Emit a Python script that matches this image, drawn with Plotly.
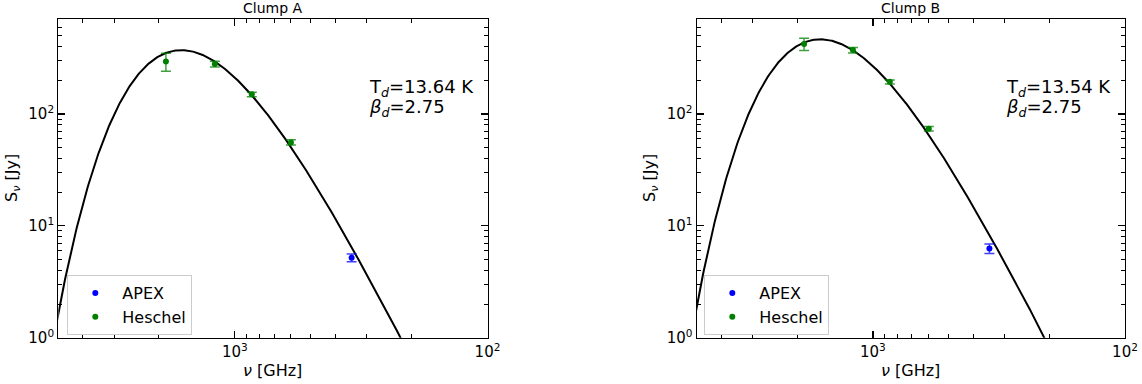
import numpy as np
import plotly.graph_objects as go

# ---------------- data ----------------
clump_names = ["Clump A", "Clump B"]
herschel_freq = [1875, 1200, 857, 600]      # GHz (160, 250, 350, 500 um)
apex_freq = [345]                            # GHz (870 um)

herschel_flux_A = [295, 280, 150, 55.8]
herschel_err_A = [54, 17, 7, 3]
apex_flux_A = [5.18]
apex_err_A = [0.41]

herschel_flux_B = [423, 373, 194, 73.9]
herschel_err_B = [53, 21, 8, 3.5]
apex_flux_B = [6.27]
apex_err_B = [0.62]

T_d = [13.64, 13.54]       # K
beta_d = [2.75, 2.75]
peak_flux = [373, 466]     # Jy, normalisation of the fitted greybody

x_tickvals = [1000, 100]
x_ticktext = ["10<sup>3</sup>", "10<sup>2</sup>"]
y_tickvals = [1, 10, 100]
y_ticktext = ["10<sup>0</sup>", "10<sup>1</sup>", "10<sup>2</sup>"]

# ---------------- model curve (modified blackbody) ----------------
H_OVER_K = 0.0479924  # K / GHz
nu_grid = np.logspace(np.log10(5200), np.log10(95), 500)


def greybody(nu, T, beta, peak):
    s = nu ** (3 + beta) / np.expm1(H_OVER_K * nu / T)
    return s / s.max() * peak


series = [
    (herschel_flux_A, herschel_err_A, apex_flux_A, apex_err_A),
    (herschel_flux_B, herschel_err_B, apex_flux_B, apex_err_B),
]

GREEN = "#008000"
BLUE = "#0000ff"
FONT = "DejaVu Sans"

W, Hh = 1142, 384


def px(p):
    return p / W


def py(p):
    return 1 - p / Hh


fig = go.Figure()

for i in range(2):
    hf, he, af, ae = series[i]
    xa = "x" if i == 0 else "x2"
    ya = "y" if i == 0 else "y2"
    lg = "legend" if i == 0 else "legend2"
    fig.add_trace(go.Scatter(
        x=nu_grid, y=greybody(nu_grid, T_d[i], beta_d[i], peak_flux[i]),
        mode="lines", line=dict(color="black", width=2),
        showlegend=False, xaxis=xa, yaxis=ya, hoverinfo="skip"))
    fig.add_trace(go.Scatter(
        x=apex_freq, y=af, mode="markers", name="APEX",
        marker=dict(color=BLUE, size=6),
        error_y=dict(type="data", array=ae, color="rgba(0,0,255,0.75)",
                     thickness=1.5, width=5),
        xaxis=xa, yaxis=ya, legend=lg))
    fig.add_trace(go.Scatter(
        x=herschel_freq, y=hf, mode="markers", name="Heschel",
        marker=dict(color=GREEN, size=6),
        error_y=dict(type="data", array=he, color="rgba(0,128,0,0.75)",
                     thickness=1.5, width=5),
        xaxis=xa, yaxis=ya, legend=lg))

x_dom = [[px(58.3), px(487.5)], [px(696.7), px(1125)]]
y_dom = [py(337.7), py(19)]
x_range = [np.log10(5000), 2]
y_range = [0, 2.85]

x_minor = [v * m for m in (100, 1000) for v in range(2, 10)]
y_minor = [v * m for m in (1, 10, 100) for v in range(2, 10)]


def axis_style(minor_vals):
    return dict(
        type="log", automargin=False, showgrid=False, zeroline=False,
        showline=True, linecolor="black", linewidth=1.2, mirror="allticks",
        ticks="inside", ticklen=7, tickwidth=1.2, tickcolor="black",
        tickfont=dict(family=FONT, size=15, color="black"),
        minor=dict(ticks="inside", ticklen=4, tickwidth=1,
                   tickcolor="black", showgrid=False,
                   tickmode="array", tickvals=minor_vals),
    )


layout = dict(
    width=W, height=Hh, margin=dict(l=0, r=0, t=0, b=0, autoexpand=False),
    paper_bgcolor="white", plot_bgcolor="white", hovermode=False,
    font=dict(family=FONT, color="black"),
)
for i in range(2):
    sx = "" if i == 0 else "2"
    layout["xaxis" + sx] = dict(
        axis_style(x_minor), range=x_range, domain=x_dom[i],
        anchor="y" + sx, tickmode="array", tickvals=x_tickvals,
        ticktext=x_ticktext)
    layout["yaxis" + sx] = dict(
        axis_style(y_minor), range=y_range, domain=y_dom,
        anchor="x" + sx, tickmode="array", tickvals=y_tickvals,
        ticktext=y_ticktext)

leg_common = dict(
    xanchor="left", yanchor="top", bgcolor="rgba(255,255,255,0.8)",
    bordercolor="#cccccc", borderwidth=1,
    font=dict(family=FONT, size=16, color="black"), itemwidth=44,
    tracegroupgap=0)
layout["legend"] = dict(x=px(67.3), y=py(275), **leg_common)
layout["legend2"] = dict(x=px(704.3), y=py(275), **leg_common)

fig.update_layout(**layout)

annots = []
for i in range(2):
    xc = (x_dom[i][0] + x_dom[i][1]) / 2
    annots.append(dict(text=clump_names[i], x=xc, y=py(7.5),
                       xref="paper", yref="paper", showarrow=False,
                       xanchor="center", yanchor="middle",
                       font=dict(family=FONT, size=14, color="black")))
    annots.append(dict(text="<i>ν</i> [GHz]", x=xc, y=py(370.5),
                       xref="paper", yref="paper", showarrow=False,
                       xanchor="center", yanchor="middle",
                       font=dict(family=FONT, size=16, color="black")))
    ylx = px(12) if i == 0 else px(650)
    annots.append(dict(text="S<sub><i>ν</i></sub> [Jy]", x=ylx,
                       y=py(178), xref="paper", yref="paper",
                       xanchor="center", yanchor="middle",
                       showarrow=False, textangle=-90,
                       font=dict(family=FONT, size=16, color="black")))
    tx = px(367.3) if i == 0 else px(1004.3)
    annots.append(dict(text="T<sub><i>d</i></sub>=%.2f K" % T_d[i], x=tx,
                       y=py(88), xref="paper", yref="paper",
                       xanchor="left", yanchor="middle", showarrow=False,
                       font=dict(family=FONT, size=18, color="black")))
    annots.append(dict(text="<i>β</i><sub><i>d</i></sub>=%.2f" % beta_d[i],
                       x=tx, y=py(108), xref="paper", yref="paper",
                       xanchor="left", yanchor="middle", showarrow=False,
                       font=dict(family=FONT, size=18, color="black")))
fig.update_layout(annotations=annots)

fig.write_html(
    "out.html",
    config={"displayModeBar": False, "staticPlot": True},
    post_script="document.body.style.margin='0';"
                "document.body.style.overflow='hidden';",
)
